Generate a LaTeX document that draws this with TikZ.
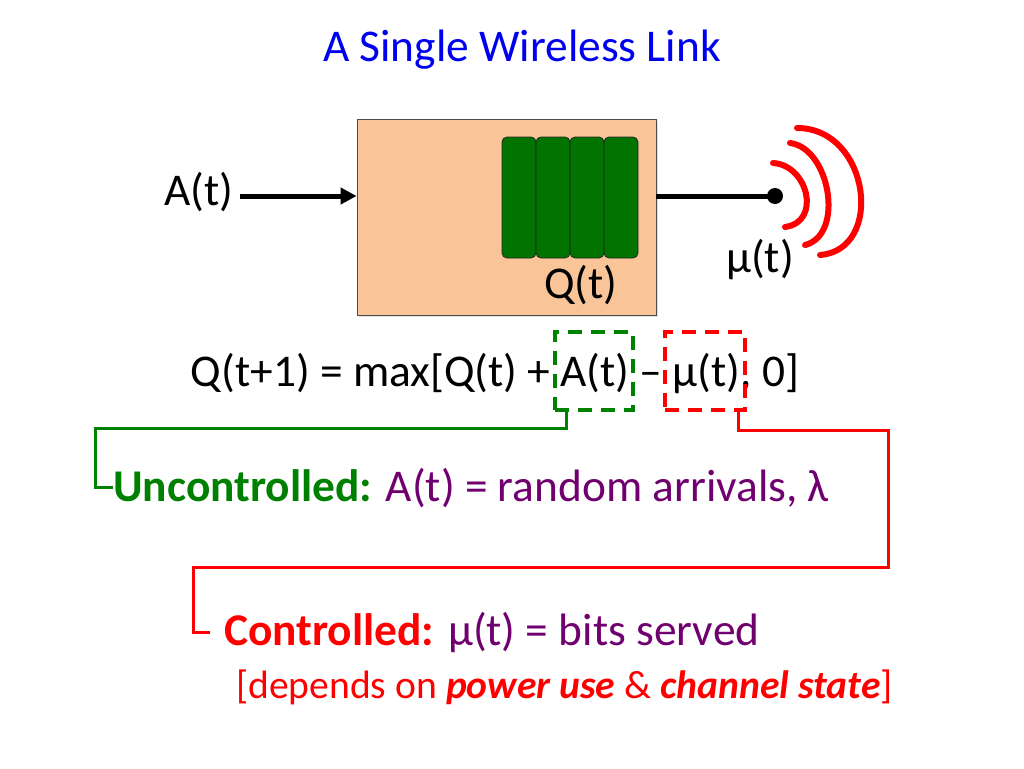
\documentclass[tikz,border=0pt]{standalone}
\usepackage{fontspec}
\setmainfont{Carlito}
\usetikzlibrary{arrows.meta,shadows}

\definecolor{linkorange}{RGB}{248,196,152}
\definecolor{bargreen}{RGB}{0,115,0}
\definecolor{dashgreen}{RGB}{0,128,0}
\definecolor{txtpurple}{RGB}{112,0,112}
\definecolor{titleblue}{RGB}{0,0,240}

\tikzset{
  bigtext/.style={font=\fontsize{45.4}{54}\selectfont, inner sep=0pt},
  smalltext/.style={font=\fontsize{39.6}{47}\selectfont, inner sep=0pt},
  qbar/.style={draw=black!85, fill=bargreen, rounded corners=5pt, line width=0.8pt,
    minimum width=34pt, minimum height=121pt, inner sep=0pt},
  dashbox/.style={dashed, dash pattern=on 14pt off 9pt, line width=3.5pt,
    minimum width=78pt, minimum height=78pt, inner sep=0pt},
  wave/.style={red, line width=6pt, line cap=round},
  link/.style={line width=3pt}
}

\begin{document}
\begin{tikzpicture}[x=1pt,y=-1pt]
  \useasboundingbox (0,0) rectangle (1024,768);

  % title
  \node[bigtext, text=titleblue, anchor=base] (title) at (522,62) {A Single Wireless Link};

  % queue box
  \node[draw=black!70, fill=linkorange, line width=0.8pt, minimum width=299pt, minimum height=196pt,
    drop shadow={shadow xshift=2pt, shadow yshift=-2pt, opacity=0.25}] (box) at (506.5,217) {};
  \foreach \i in {0,...,3}
    \node[qbar] (bar\i) at (519+34*\i,197.5) {};
  \node[bigtext, anchor=base] (qlabel) at (581,298) {Q(t)};

  % arrivals and transmitter
  \node[bigtext, anchor=base] (arr) at (199,205) {A(t)};
  \node[circle, fill=black, minimum size=16pt, inner sep=0pt] (ant) at (775,196) {};
  \draw[line width=5pt, -{Triangle[length=16pt,width=16pt]}] ([xshift=6pt]arr.east |- ant) -- (box.west |- ant);
  \draw[line width=5pt] (box.east |- ant) -- (ant.center);
  \node[bigtext, anchor=base] (mu) at (760,272) {μ(t)};
  \draw[wave] (773,163) .. controls (808,165) and (822,222) .. (785,227);
  \draw[wave] (790,143) .. controls (830,148) and (845,235) .. (805,245);
  \draw[wave] (797,128) .. controls (870,128) and (885,250) .. (820,255);

  % queue equation
  \node[bigtext, anchor=base] (eqn) at (495,386) {Q(t+1) = max[Q(t) + A(t) – μ(t), 0]};
  \node[dashbox, draw=dashgreen] (gbox) at (594,371) {};
  \node[dashbox, draw=red, minimum width=80pt] (rbox) at (705,371) {};

  % explanations
  \node[bigtext, anchor=base west] (unc) at (113,501)
    {\textcolor{dashgreen}{\textbf{Uncontrolled:}} \textcolor{txtpurple}{A(t) = random arrivals, λ}};
  \node[bigtext, anchor=base west] (ctl) at (224,645)
    {\textcolor{red}{\textbf{Controlled:}} \textcolor{txtpurple}{μ(t) = bits served}};
  \node[smalltext, text=red, anchor=base west] (dep) at (236,698)
    {[depends on \textbf{\textit{power use}} \& \textbf{\textit{channel state}}]};

  \coordinate (gdrop) at ([xshift=13pt]gbox.south west);
  \coordinate (gbend) at (95,428);
  \draw[link, dashgreen] (gdrop) |- (gbend) |- (unc.west);
  \coordinate (rdrop) at ([xshift=-8pt]rbox.south east);
  \coordinate (rbend) at (888,430);
  \coordinate (rturn) at (193,567);
  \coordinate (rend) at ([xshift=-14pt]ctl.west);
  \draw[link, red] (rdrop) |- (rbend) |- (rturn) |- (rend);
\end{tikzpicture}
\end{document}
